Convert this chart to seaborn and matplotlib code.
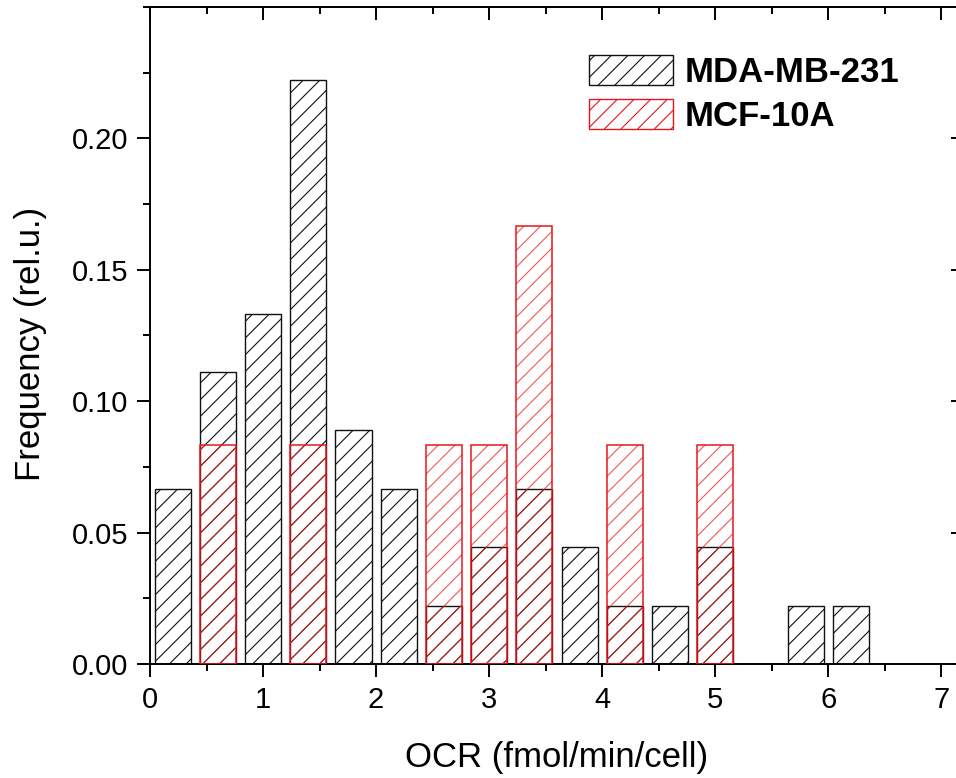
import matplotlib
matplotlib.use("Agg")
import numpy as np
import pandas as pd
import seaborn as sns
import matplotlib.pyplot as plt
from matplotlib.patches import Patch
from matplotlib.ticker import MultipleLocator, FixedLocator, FixedFormatter

# ---- data ----
mda_ocr = [0.2, 0.6, 1.0, 1.4, 1.8, 2.2, 2.6, 3.0, 3.4, 3.8, 4.2, 4.6, 5.0, 5.8, 6.2]
mda_freq = [0.0667, 0.1111, 0.1333, 0.2222, 0.0889, 0.0667, 0.0222, 0.0444,
            0.0667, 0.0444, 0.0222, 0.0222, 0.0444, 0.0222, 0.0222]
mcf_ocr = [0.6, 1.4, 2.6, 3.0, 3.4, 4.2, 5.0]
mcf_freq = [0.0833, 0.0833, 0.0833, 0.0833, 0.1667, 0.0833, 0.0833]
series_names = ["MDA-MB-231", "MCF-10A"]
xticks = [0, 1, 2, 3, 4, 5, 6, 7]
xtick_labels = ["0", "1", "2", "3", "4", "5", "6", "7"]
yticks = [0.00, 0.05, 0.10, 0.15, 0.20]
ytick_labels = ["0.00", "0.05", "0.10", "0.15", "0.20"]
xlabel = "OCR (fmol/min/cell)"
ylabel = "Frequency (rel.u.)"

df_mda = pd.DataFrame({"ocr": mda_ocr, "freq": mda_freq})
df_mcf = pd.DataFrame({"ocr": mcf_ocr, "freq": mcf_freq})

sns.set_style("ticks")
plt.rcParams["font.family"] = ["Liberation Sans", "DejaVu Sans"]
plt.rcParams["hatch.linewidth"] = 0.8
plt.rcParams["text.color"] = "black"
plt.rcParams["axes.labelcolor"] = "black"
plt.rcParams["xtick.color"] = "black"
plt.rcParams["ytick.color"] = "black"

W, H = 956, 778
fig = plt.figure(figsize=(W / 100, H / 100), dpi=100)
ax = fig.add_axes([150 / W, 1 - 664 / H, (964 - 150) / W, (664 - 7) / H])

black = "#111111"
red = "#e8161b"
red_hatch = (0.92, 0.12, 0.12, 0.75)

sns.barplot(data=df_mda, x="ocr", y="freq", native_scale=True, errorbar=None,
            width=0.8, fill=False, color=black, edgecolor=black, facecolor="none",
            hatch="//", linewidth=1.0, ax=ax, zorder=2)
sns.barplot(data=df_mcf, x="ocr", y="freq", native_scale=True, errorbar=None,
            width=0.8, fill=False, color=red, edgecolor=red_hatch, facecolor="none",
            hatch="//", linewidth=0, ax=ax, zorder=3)
sns.barplot(data=df_mcf, x="ocr", y="freq", native_scale=True, errorbar=None,
            width=0.8, fill=False, color=red, edgecolor=red, facecolor="none",
            linewidth=1.1, ax=ax, zorder=4)

ax.set_xlim(0, 7.2)
ax.set_ylim(0, 0.25)
ax.xaxis.set_major_locator(FixedLocator(xticks))
ax.xaxis.set_major_formatter(FixedFormatter(xtick_labels))
ax.xaxis.set_minor_locator(MultipleLocator(0.5))
ax.yaxis.set_major_locator(FixedLocator(yticks))
ax.yaxis.set_major_formatter(FixedFormatter(ytick_labels))
ax.yaxis.set_minor_locator(MultipleLocator(0.025))

for name, s in ax.spines.items():
    s.set_visible(name != "right")
    s.set_linewidth(1.4)
    s.set_color("black")

ax.tick_params(which="major", direction="out", length=9.5, width=1.4,
               labelsize=21, pad=6, colors="black")
ax.tick_params(which="minor", direction="out", length=5, width=1.4)

sx = ax.secondary_xaxis("top")
sx.xaxis.set_major_locator(FixedLocator(xticks))
sx.xaxis.set_minor_locator(MultipleLocator(0.5))
sx.tick_params(which="major", direction="in", length=9.5, width=1.4, labeltop=False)
sx.tick_params(which="minor", direction="in", length=5, width=1.4)
sx.spines["top"].set_linewidth(1.4)
sy = ax.secondary_yaxis("right")
sy.yaxis.set_major_locator(FixedLocator(yticks))
sy.yaxis.set_minor_locator(MultipleLocator(0.025))
sy.tick_params(which="major", direction="in", length=9.5, width=1.4, labelright=False)
sy.tick_params(which="minor", direction="in", length=5, width=1.4)
sy.spines["right"].set_visible(False)

ax.set_xlabel(xlabel, fontsize=25, labelpad=20, color="black")
ax.set_ylabel(ylabel, fontsize=25, labelpad=18, color="black")
ax.yaxis.label.set_y(0.487)

handles = [Patch(facecolor="none", edgecolor=black, hatch="//", linewidth=1.0),
           Patch(facecolor="none", edgecolor=red, hatch="//", linewidth=1.0)]
leg = ax.legend(handles, series_names, loc="upper left",
                bbox_to_anchor=(589 / W, 1 - 55 / H), bbox_transform=fig.transFigure,
                frameon=False, borderpad=0, borderaxespad=0,
                handlelength=2.42, handleheight=0.95, handletextpad=0.33,
                labelspacing=0.3, prop={"size": 25, "weight": "bold"})
for t in leg.get_texts():
    t.set_color("black")

fig.savefig("out.png", dpi=100)
